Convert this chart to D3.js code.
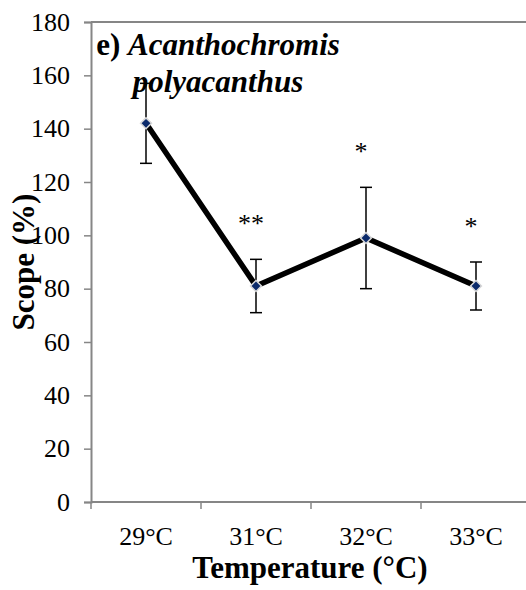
<!DOCTYPE html>
<meta charset="utf-8">
<head>
  <title>Scope by temperature</title>
</head>
<style>
body {
  margin: 0;
  background: #fff;
  font-family: "Liberation Serif", "Times New Roman", serif;
}
</style>
<body>
  <div id="content"></div>
  <script src="https://cdnjs.cloudflare.com/ajax/libs/d3/7.8.5/d3.min.js"></script>
  <script>

// Data
var temps = ['29°C', '31°C', '32°C', '33°C'];
var scope = [142, 81, 99, 81];
var errUp = [157, 91, 118, 90];
var errDown = [127, 71, 80, 72];
var stars = ['', '**', '*', '*'];
var yTicks = [0, 20, 40, 60, 80, 100, 120, 140, 160, 180];

var width = 526, height = 590;
var plotLeft = 91, plotTop = 22, plotBottom = 502;

var svg = d3.select('#content').append('svg')
  .attr('width', width)
  .attr('height', height);

var x = d3.scaleBand()
  .domain(temps)
  .range([plotLeft, 531]);

var y = d3.scaleLinear()
  .domain([0, 180])
  .range([plotBottom, plotTop]);

var axisCol = '#868686';

// top border of plot
svg.append('line')
  .attr('x1', plotLeft).attr('x2', width)
  .attr('y1', y(180)).attr('y2', y(180))
  .attr('stroke', axisCol).attr('stroke-width', 2);

// y axis
var yAxis = svg.append('g')
  .attr('transform', 'translate(' + plotLeft + ',0)')
  .call(d3.axisLeft(y).tickValues(yTicks).tickSize(7).tickPadding(14));
yAxis.select('.domain').attr('stroke', axisCol).attr('stroke-width', 2);
yAxis.selectAll('.tick line').attr('stroke', axisCol).attr('stroke-width', 1.5);
yAxis.selectAll('.tick text')
  .attr('fill', '#000')
  .style('font-family', '"Liberation Serif", serif')
  .style('font-size', '26px');

// x axis
var xAxis = svg.append('g')
  .attr('transform', 'translate(0,' + plotBottom + ')')
  .call(d3.axisBottom(x).tickSize(0).tickPadding(0));
xAxis.select('.domain').attr('d', 'M' + plotLeft + ',0H' + width)
  .attr('stroke', axisCol).attr('stroke-width', 2);
xAxis.selectAll('.tick text')
  .attr('fill', '#000')
  .attr('dy', null)
  .attr('y', 43)
  .style('font-family', '"Liberation Serif", serif')
  .style('font-size', '26px');

// category boundary ticks
var edges = temps.map(function(t) { return x(t); });
svg.append('g').selectAll('line')
  .data(edges)
  .join('line')
  .attr('x1', function(d) { return d; })
  .attr('x2', function(d) { return d; })
  .attr('y1', plotBottom).attr('y2', plotBottom + 7)
  .attr('stroke', axisCol).attr('stroke-width', 1.5);

var cx = function(i) { return x(temps[i]) + x.bandwidth() / 2; };
var idx = d3.range(temps.length);

// error bars
var eb = svg.append('g').attr('stroke', '#000').attr('stroke-width', 1.5);
idx.forEach(function(i) {
  eb.append('line')
    .attr('x1', cx(i)).attr('x2', cx(i))
    .attr('y1', y(errUp[i])).attr('y2', y(errDown[i]));
  [errUp[i], errDown[i]].forEach(function(v) {
    eb.append('line')
      .attr('x1', cx(i) - 6).attr('x2', cx(i) + 6)
      .attr('y1', y(v)).attr('y2', y(v));
  });
});

// main line
var line = d3.line()
  .x(function(d, i) { return cx(i); })
  .y(function(d) { return y(d); });

svg.append('path')
  .datum(scope)
  .attr('d', line)
  .attr('fill', 'none')
  .attr('stroke', '#000')
  .attr('stroke-width', 5.5)
  .attr('stroke-linejoin', 'round');

// diamond markers
svg.append('g').selectAll('path')
  .data(scope)
  .join('path')
  .attr('transform', function(d, i) { return 'translate(' + cx(i) + ',' + y(d) + ') rotate(45)'; })
  .attr('d', d3.symbol().type(d3.symbolSquare).size(60))
  .attr('fill', '#0b2a6b')
  .attr('stroke', '#d9d9d9')
  .attr('stroke-width', 1.5);

// significance stars
svg.append('g').selectAll('text')
  .data(stars)
  .join('text')
  .attr('x', function(d, i) { return cx(i) - 5; })
  .attr('y', function(d, i) { return y(errUp[i]) - 27; })
  .attr('text-anchor', 'middle')
  .style('font-size', '26px')
  .text(function(d) { return d; });

// panel title
var title = svg.append('text')
  .attr('text-anchor', 'middle')
  .style('font-size', '31px')
  .style('font-weight', 'bold');
title.append('tspan').attr('x', 218).attr('y', 55).text('e) ');
title.append('tspan').style('font-style', 'italic').text('Acanthochromis');
title.append('tspan').attr('x', 218).attr('y', 92)
  .style('font-style', 'italic').text('polyacanthus');

// axis titles
svg.append('text')
  .attr('x', 310).attr('y', 578)
  .attr('text-anchor', 'middle')
  .style('font-size', '31px')
  .style('font-weight', 'bold')
  .text('Temperature (°C)');

svg.append('text')
  .attr('transform', 'translate(34,262) rotate(-90)')
  .attr('text-anchor', 'middle')
  .style('font-size', '31px')
  .style('font-weight', 'bold')
  .text('Scope (%)');
</script>
</body>
</html>
